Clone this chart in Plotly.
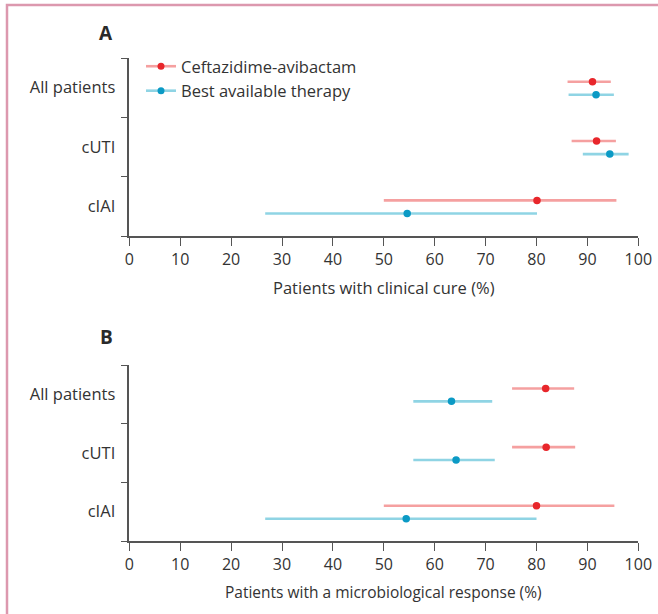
import plotly.graph_objects as go

# Subgroups (top to bottom)
groups = ["All patients", "cUTI", "cIAI"]
series_names = ["Ceftazidime-avibactam", "Best available therapy"]

# Panel A: clinical cure (%), point estimate with 95% CI
cure_caz = [91.0, 91.8, 80.1]
cure_caz_lo = [86.1, 86.9, 50.0]
cure_caz_hi = [94.6, 95.6, 95.7]
cure_bat = [91.7, 94.4, 54.6]
cure_bat_lo = [86.3, 89.1, 26.7]
cure_bat_hi = [95.2, 98.1, 80.1]

# Panel B: microbiological response (%), point estimate with 95% CI
micro_caz = [81.8, 81.9, 80.0]
micro_caz_lo = [75.2, 75.2, 50.0]
micro_caz_hi = [87.4, 87.6, 95.3]
micro_bat = [63.3, 64.2, 54.4]
micro_bat_lo = [55.8, 55.8, 26.7]
micro_bat_hi = [71.3, 71.8, 80.0]

x_ticks = [0, 10, 20, 30, 40, 50, 60, 70, 80, 90, 100]

W, H = 658, 614
FONT = "Open Sans"
TEXT = "#333333"
AXIS = "#555555"
RED_LINE, RED_DOT = "#f5a0a0", "#e8262b"
BLUE_LINE, BLUE_DOT = "#8fd4e4", "#0b9ac5"
OFFSETS = [-0.10, 0.12]  # vertical shift of each series within a subgroup
FS = 16.5


def px_x(p):
    return p / W


def px_y(p):
    return 1 - p / H


fig = go.Figure()

panels = [
    ("x", "y", [(cure_caz, cure_caz_lo, cure_caz_hi), (cure_bat, cure_bat_lo, cure_bat_hi)]),
    ("x2", "y2", [(micro_caz, micro_caz_lo, micro_caz_hi), (micro_bat, micro_bat_lo, micro_bat_hi)]),
]
styles = [(RED_LINE, RED_DOT), (BLUE_LINE, BLUE_DOT)]

for xa, ya, data in panels:
    for (est, lo, hi), (lc, dc), off, name in zip(data, styles, OFFSETS, series_names):
        fig.add_trace(go.Scatter(
            x=est,
            y=[i + off for i in range(len(groups))],
            mode="markers",
            marker=dict(color=dc, size=7.5),
            error_x=dict(type="data", symmetric=False,
                         array=[h - e for h, e in zip(hi, est)],
                         arrayminus=[e - l for e, l in zip(est, lo)],
                         color=lc, thickness=2.6, width=0),
            name=name, showlegend=False, xaxis=xa, yaxis=ya,
            hoverinfo="skip",
        ))

# Legend entries (line with a dot in the middle)
for (lc, dc), name in zip(styles, series_names):
    fig.add_trace(go.Scatter(
        x=[None], y=[None], mode="lines+markers", name=name,
        line=dict(color=lc, width=2.6), marker=dict(color=dc, size=7),
        xaxis="x", yaxis="y",
    ))

xdom = [px_x(129.3), px_x(638.3)]
ydom_a = [px_y(236), px_y(58)]
ydom_b = [px_y(541), px_y(365)]


def xaxis_cfg(anchor):
    return dict(
        domain=xdom, anchor=anchor, range=[0, 100], tickvals=x_ticks,
        ticks="outside", ticklen=8, tickwidth=1.4, tickcolor=AXIS,
        showline=True, linecolor=AXIS, linewidth=1.5,
        showgrid=False, zeroline=False, fixedrange=True,
        tickfont=dict(family=FONT, size=16, color=TEXT),
        automargin=False,
    )


def yaxis_cfg(anchor, dom):
    return dict(
        domain=dom, anchor=anchor, range=[2.5, -0.5],
        tickvals=list(range(len(groups))), ticktext=groups, ticks="",
        ticklabelstandoff=9,
        minor=dict(tickvals=[-0.5, 0.5, 1.5, 2.5], ticks="outside",
                   ticklen=7, tickwidth=1.4, tickcolor=AXIS, showgrid=False),
        showline=True, linecolor=AXIS, linewidth=1.5,
        showgrid=False, zeroline=False, fixedrange=True,
        tickfont=dict(family=FONT, size=FS, color=TEXT),
        automargin=False,
    )


fig.update_layout(
    width=W, height=H,
    margin=dict(l=0, r=0, t=0, b=0),
    paper_bgcolor="white", plot_bgcolor="white",
    font=dict(family=FONT, size=FS, color=TEXT),
    xaxis=xaxis_cfg("y"), yaxis=yaxis_cfg("x", ydom_a),
    xaxis2=xaxis_cfg("y2"), yaxis2=yaxis_cfg("x2", ydom_b),
    showlegend=True,
    legend=dict(x=px_x(141), y=px_y(49), xanchor="left", yanchor="top",
                bgcolor="rgba(0,0,0,0)", borderwidth=0,
                font=dict(family=FONT, size=FS, color=TEXT),
                tracegroupgap=0, itemwidth=30),
    annotations=[
        dict(text="<b>A</b>", x=px_x(106), y=px_y(33), xref="paper", yref="paper",
             showarrow=False, font=dict(family=FONT, size=19, color="#2a2a2a"),
             xanchor="center", yanchor="middle"),
        dict(text="<b>B</b>", x=px_x(106), y=px_y(337), xref="paper", yref="paper",
             showarrow=False, font=dict(family=FONT, size=19, color="#2a2a2a"),
             xanchor="center", yanchor="middle"),
        dict(text="Patients with clinical cure (%)", x=0.5, xref="x domain",
             y=px_y(287), yref="paper", showarrow=False,
             font=dict(family=FONT, size=FS, color=TEXT), yanchor="middle"),
        dict(text="Patients with a microbiological response (%)", x=0.5, xref="x2 domain",
             y=px_y(592), yref="paper", showarrow=False,
             font=dict(family=FONT, size=15.5, color=TEXT), yanchor="middle"),
    ],
    shapes=[
        dict(type="rect", xref="paper", yref="paper",
             x0=px_x(7), x1=1.2, y0=-0.2, y1=px_y(5),
             line=dict(color="#dc98ae", width=2.5), fillcolor="rgba(0,0,0,0)"),
    ],
)

fig.write_html("out.html")
